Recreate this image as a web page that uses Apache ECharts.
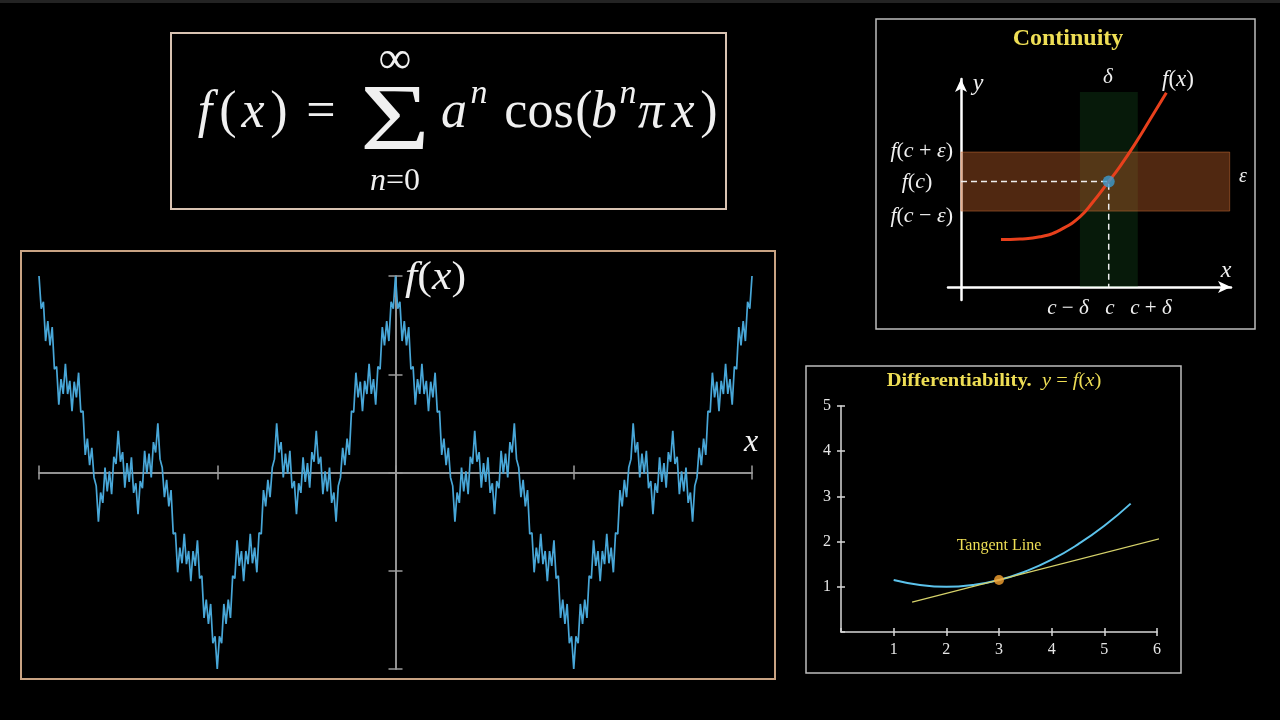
<!DOCTYPE html>
<html>
<head>
<meta charset="utf-8">
<title>Weierstrass function</title>
<script src="https://cdn.jsdelivr.net/npm/echarts@6/dist/echarts.min.js"></script>
<style>
html, body { margin: 0; padding: 0; background: #000; }
#chart { width: 1280px; height: 720px; }
</style>
</head>
<body>
<div id="chart"></div>
<script>
const weierPerUnit = 81
const weierY = [
  2.000, 1.668, 1.738, 1.338, 1.541, 1.293, 1.481, 1.052, 1.078, 0.690,
  0.951, 0.800, 1.105, 0.799, 0.933, 0.624, 0.924, 0.765, 1.016, 0.614,
  0.625, 0.178, 0.346, 0.075, 0.252, -0.050, -0.136, -0.500, -0.203, -0.309,
  0.051, -0.193, 0.012, -0.221, 0.160, 0.086, 0.424, 0.110, 0.207, -0.154,
  0.096, -0.096, 0.154, -0.207, -0.110, -0.424, -0.086, -0.160, 0.221, -0.012,
  0.193, -0.051, 0.309, 0.203, 0.500, 0.136, 0.050, -0.252, -0.075, -0.346,
  -0.178, -0.625, -0.614, -1.016, -0.765, -0.924, -0.624, -0.933, -0.799, -1.105,
  -0.800, -0.951, -0.690, -1.078, -1.052, -1.481, -1.293, -1.541, -1.338, -1.738,
  -1.668, -2.000,
  -1.668, -1.738, -1.338, -1.541, -1.293, -1.481, -1.052, -1.078, -0.690, -0.951,
  -0.800, -1.105, -0.799, -0.933, -0.624, -0.924, -0.765, -1.016, -0.614, -0.625,
  -0.178, -0.346, -0.075, -0.252, 0.050, 0.136, 0.500, 0.203, 0.309, -0.051,
  0.193, -0.012, 0.221, -0.160, -0.086, -0.424, -0.110, -0.207, 0.154, -0.096,
  0.096, -0.154, 0.207, 0.110, 0.424, 0.086, 0.160, -0.221, 0.012, -0.193,
  0.051, -0.309, -0.203, -0.500, -0.136, -0.050, 0.252, 0.075, 0.346, 0.178,
  0.625, 0.614, 1.016, 0.765, 0.924, 0.624, 0.933, 0.799, 1.105, 0.800,
  0.951, 0.690, 1.078, 1.052, 1.481, 1.293, 1.541, 1.338, 1.738, 1.668,
  2.000,
  1.668, 1.738, 1.338, 1.541, 1.293, 1.481, 1.052, 1.078, 0.690,
  0.951, 0.800, 1.105, 0.799, 0.933, 0.624, 0.924, 0.765, 1.016, 0.614,
  0.625, 0.178, 0.346, 0.075, 0.252, -0.050, -0.136, -0.500, -0.203, -0.309,
  0.051, -0.193, 0.012, -0.221, 0.160, 0.086, 0.424, 0.110, 0.207, -0.154,
  0.096, -0.096, 0.154, -0.207, -0.110, -0.424, -0.086, -0.160, 0.221, -0.012,
  0.193, -0.051, 0.309, 0.203, 0.500, 0.136, 0.050, -0.252, -0.075, -0.346,
  -0.178, -0.625, -0.614, -1.016, -0.765, -0.924, -0.624, -0.933, -0.799, -1.105,
  -0.800, -0.951, -0.690, -1.078, -1.052, -1.481, -1.293, -1.541, -1.338, -1.738,
  -1.668, -2.000,
  -1.668, -1.738, -1.338, -1.541, -1.293, -1.481, -1.052, -1.078, -0.690, -0.951,
  -0.800, -1.105, -0.799, -0.933, -0.624, -0.924, -0.765, -1.016, -0.614, -0.625,
  -0.178, -0.346, -0.075, -0.252, 0.050, 0.136, 0.500, 0.203, 0.309, -0.051,
  0.193, -0.012, 0.221, -0.160, -0.086, -0.424, -0.110, -0.207, 0.154, -0.096,
  0.096, -0.154, 0.207, 0.110, 0.424, 0.086, 0.160, -0.221, 0.012, -0.193,
  0.051, -0.309, -0.203, -0.500, -0.136, -0.050, 0.252, 0.075, 0.346, 0.178,
  0.625, 0.614, 1.016, 0.765, 0.924, 0.624, 0.933, 0.799, 1.105, 0.800,
  0.951, 0.690, 1.078, 1.052, 1.481, 1.293, 1.541, 1.338, 1.738, 1.668,
  2.000
]

// continuity sketch
const contCurveX = [1.54, 2.27, 3.04, 3.81, 4.58, 5.09, 5.69, 6.12, 6.76, 7.27, 7.91]
const contCurveY = [1.83, 1.85, 1.93, 2.19, 2.70, 3.28, 4.06, 4.63, 5.59, 6.42, 7.47]
const contPoint = [5.69, 4.06]
const epsBand = [2.92, 5.19]
const deltaBand = [4.58, 6.81]
const bandReach = [10.35, 7.5]

// differentiability sketch
const diffX = [1, 1.5, 2, 2.5, 3, 3.5, 4, 4.5, 5, 5.5]
const diffY = [1.15, 1.04, 1.0, 1.04, 1.15, 1.34, 1.6, 1.94, 2.35, 2.84]
const tangentX = [1.35, 6.17]
const tangentY = [0.66, 2.10]
const tangentPoint = [3, 1.15]

const SERIF = '"Liberation Serif", "DejaVu Serif", serif'
const INK = '#f0f0f0'
const YELLOW = '#eede55'
const AX = '#9c9c9c'

const pairs = (xs, ys) => xs.map((x, i) => [x, ys[i]])
const weierData = weierY.map((v, i) => [i / weierPerUnit - 2, v])

const mathRich = (size, color) => ({
  i: { fontFamily: SERIF, fontStyle: 'italic', fontSize: size, fill: color },
  r: { fontFamily: SERIF, fontSize: size, fill: color },
  b: { fontFamily: SERIF, fontWeight: 'bold', fontSize: size, fill: color }
})

function txt (x, y, text, size, opt = {}) {
  return {
    type: 'text',
    x: x,
    y: y,
    z: 10,
    scaleX: opt.scaleX || 1,
    style: {
      text: text,
      fontFamily: SERIF,
      fontSize: size,
      fontStyle: opt.italic ? 'italic' : 'normal',
      fontWeight: opt.bold ? 'bold' : 'normal',
      fill: opt.color || INK,
      textAlign: opt.align || 'center',
      textVerticalAlign: 'middle',
      rich: opt.rich ? mathRich(size, opt.color || INK) : undefined
    }
  }
}

function box (x, y, w, h, color, lw) {
  return {
    type: 'rect',
    shape: { x: x, y: y, width: w, height: h },
    style: { fill: 'none', stroke: color, lineWidth: lw },
    z: 1
  }
}

const graphics = [
  { type: 'rect', shape: { x: 0, y: 0, width: 1280, height: 3 }, style: { fill: '#232323' } },
  box(171, 33, 555, 176, '#d9c3b2', 2),
  box(21, 251, 754, 428, '#c9a383', 2),
  box(876, 19, 379, 310, '#bdbdbd', 1.5),
  box(806, 366, 375, 307, '#bdbdbd', 1.5),

  // formula
  txt(205, 113, 'f', 52, { italic: true }),
  txt(228, 113, '(', 52),
  txt(253, 113, 'x', 52, { italic: true }),
  txt(279, 113, ')', 52),
  txt(321, 113, '=', 52),
  txt(395, 125, 'Σ', 96, { scaleX: 1.25 }),
  txt(395, 61, '∞', 46),
  txt(395, 182, '{i|n}{r|=0}', 32, { rich: true }),
  txt(454, 113, 'a', 52, { italic: true }),
  txt(479, 94, 'n', 34, { italic: true }),
  txt(539, 113, 'cos', 52),
  txt(584, 113, '(', 52),
  txt(604, 113, 'b', 52, { italic: true }),
  txt(628, 94, 'n', 34, { italic: true }),
  txt(651, 113, 'π', 52, { italic: true }),
  txt(683, 113, 'x', 52, { italic: true }),
  txt(709, 113, ')', 52),

  // big panel labels
  txt(405, 278, '{i|f}{r|(}{i|x}{r|)}', 40, { rich: true, align: 'left', scaleX: 1.1 }),
  txt(751, 443, 'x', 32, { italic: true }),

  // continuity labels
  txt(1068, 39, 'Continuity', 24, { bold: true, color: YELLOW }),
  txt(978, 84, 'y', 24, { italic: true }),
  txt(1226, 271, 'x', 24, { italic: true }),
  txt(1108, 77, 'δ', 21, { italic: true }),
  txt(1178, 80, '{i|f}{r|(}{i|x}{r|)}', 23, { rich: true }),
  txt(1243, 177, 'ε', 20, { italic: true }),
  txt(953, 151, '{i|f}{r|(}{i|c}{r| + }{i|ε}{r|)}', 22, { rich: true, align: 'right' }),
  txt(917, 182, '{i|f}{r|(}{i|c}{r|)}', 22, { rich: true }),
  txt(953, 216, '{i|f}{r|(}{i|c}{r| − }{i|ε}{r|)}', 22, { rich: true, align: 'right' }),
  txt(1068, 308, '{i|c}{r| − }{i|δ}', 21, { rich: true }),
  txt(1110, 308, 'c', 21, { italic: true }),
  txt(1151, 308, '{i|c}{r| + }{i|δ}', 21, { rich: true }),

  // differentiability labels
  txt(994, 381, '{b|Differentiability.}{r|  }{i|y}{r| = }{i|f}{r|(}{i|x}{r|)}', 19, { rich: true, color: YELLOW, scaleX: 1.08 }),
  txt(999, 546, 'Tangent Line', 16, { color: YELLOW })
]

const hiddenLabel = { show: false }
const noSplit = { show: false }

function weierAxis (pos) {
  return {
    gridIndex: 0,
    type: 'value',
    min: -2,
    max: 2,
    interval: 1,
    position: pos,
    axisLine: { onZero: true, onZeroAxisIndex: 0, lineStyle: { color: AX, width: 1.5 } },
    axisTick: { show: true, length: 7, lineStyle: { color: AX, width: 1.5 } },
    axisLabel: hiddenLabel,
    splitLine: noSplit
  }
}

function diffAxis (pos, max, labels) {
  return {
    gridIndex: 2,
    type: 'value',
    min: 0,
    max: max,
    interval: 1,
    position: pos,
    axisLine: { show: labels, onZero: true, onZeroAxisIndex: 3, lineStyle: { color: '#d8d8d8', width: 1.5 } },
    axisTick: { show: true, length: 4, lineStyle: { color: '#d8d8d8', width: 1.5 } },
    axisLabel: labels
      ? { show: true, showMinLabel: false, color: '#e6e6e6', fontFamily: SERIF, fontSize: 16, margin: 10 }
      : hiddenLabel,
    splitLine: noSplit
  }
}

const arrowLine = {
  onZero: true,
  onZeroAxisIndex: 2,
  symbol: ['none', 'arrow'],
  symbolSize: [9, 13],
  lineStyle: { color: '#ffffff', width: 2.5 }
}

const option = {
  backgroundColor: '#000',
  animation: false,
  grid: [
    { left: 39, right: 528, top: 276, bottom: 51, outerBoundsMode: 'none' },
    { left: 948, right: 49, top: 79, bottom: 420, outerBoundsMode: 'none' },
    { left: 841, right: 123, top: 406, bottom: 88, outerBoundsMode: 'none' }
  ],
  xAxis: [
    weierAxis('bottom'),
    weierAxis('top'),
    {
      gridIndex: 1, type: 'value', min: -0.5, max: 10.4,
      axisLine: arrowLine, axisTick: { show: false }, axisLabel: hiddenLabel, splitLine: noSplit
    },
    diffAxis('bottom', 6, true),
    diffAxis('top', 6, false)
  ],
  yAxis: [
    weierAxis('left'),
    weierAxis('right'),
    {
      gridIndex: 1, type: 'value', min: -0.5, max: 8,
      axisLine: arrowLine, axisTick: { show: false }, axisLabel: hiddenLabel, splitLine: noSplit
    },
    diffAxis('left', 5, true),
    diffAxis('right', 5, false)
  ],
  graphic: graphics,
  series: [
    {
      type: 'line',
      xAxisIndex: 0,
      yAxisIndex: 0,
      data: weierData,
      showSymbol: false,
      clip: false,
      lineStyle: { color: '#48a7d8', width: 1.7 },
      z: 3
    },
    {
      type: 'line',
      xAxisIndex: 2,
      yAxisIndex: 2,
      data: [],
      markArea: {
        silent: true,
        data: [
          [
            { coord: [deltaBand[0], 0], itemStyle: { color: 'rgba(30, 120, 45, 0.22)' } },
            { coord: [deltaBand[1], bandReach[1]] }
          ]
        ]
      }
    },
    {
      type: 'line',
      xAxisIndex: 2,
      yAxisIndex: 2,
      data: [],
      markArea: {
        silent: true,
        data: [
          [
            { coord: [0, epsBand[0]], itemStyle: { color: 'rgba(200, 100, 42, 0.4)', borderColor: 'rgba(220, 120, 60, 0.45)', borderWidth: 1 } },
            { coord: [bandReach[0], epsBand[1]] }
          ]
        ]
      }
    },
    {
      type: 'line',
      xAxisIndex: 2,
      yAxisIndex: 2,
      data: pairs(contCurveX, contCurveY),
      smooth: true,
      showSymbol: false,
      lineStyle: { color: '#e8401c', width: 3 },
      z: 4
    },
    {
      type: 'line',
      xAxisIndex: 2,
      yAxisIndex: 2,
      data: [[0, contPoint[1]], contPoint, [contPoint[0], 0]],
      showSymbol: false,
      lineStyle: { color: '#eeeeee', width: 1.5, type: [6, 4] },
      z: 5
    },
    {
      type: 'scatter',
      xAxisIndex: 2,
      yAxisIndex: 2,
      data: [contPoint],
      symbolSize: 12,
      itemStyle: { color: '#3b9bd0' },
      z: 6
    },
    {
      type: 'line',
      xAxisIndex: 3,
      yAxisIndex: 3,
      data: pairs(diffX, diffY),
      smooth: true,
      showSymbol: false,
      lineStyle: { color: '#5cc3ec', width: 2 },
      z: 3
    },
    {
      type: 'line',
      xAxisIndex: 3,
      yAxisIndex: 3,
      data: pairs(tangentX, tangentY),
      showSymbol: false,
      lineStyle: { color: '#d6d26a', width: 1.2 },
      z: 4
    },
    {
      type: 'scatter',
      xAxisIndex: 3,
      yAxisIndex: 3,
      data: [tangentPoint],
      symbolSize: 10,
      itemStyle: { color: '#f6a331' },
      z: 5
    }
  ]
}

const chart = echarts.init(document.getElementById('chart'))
chart.setOption(option)
</script>
</body>
</html>
